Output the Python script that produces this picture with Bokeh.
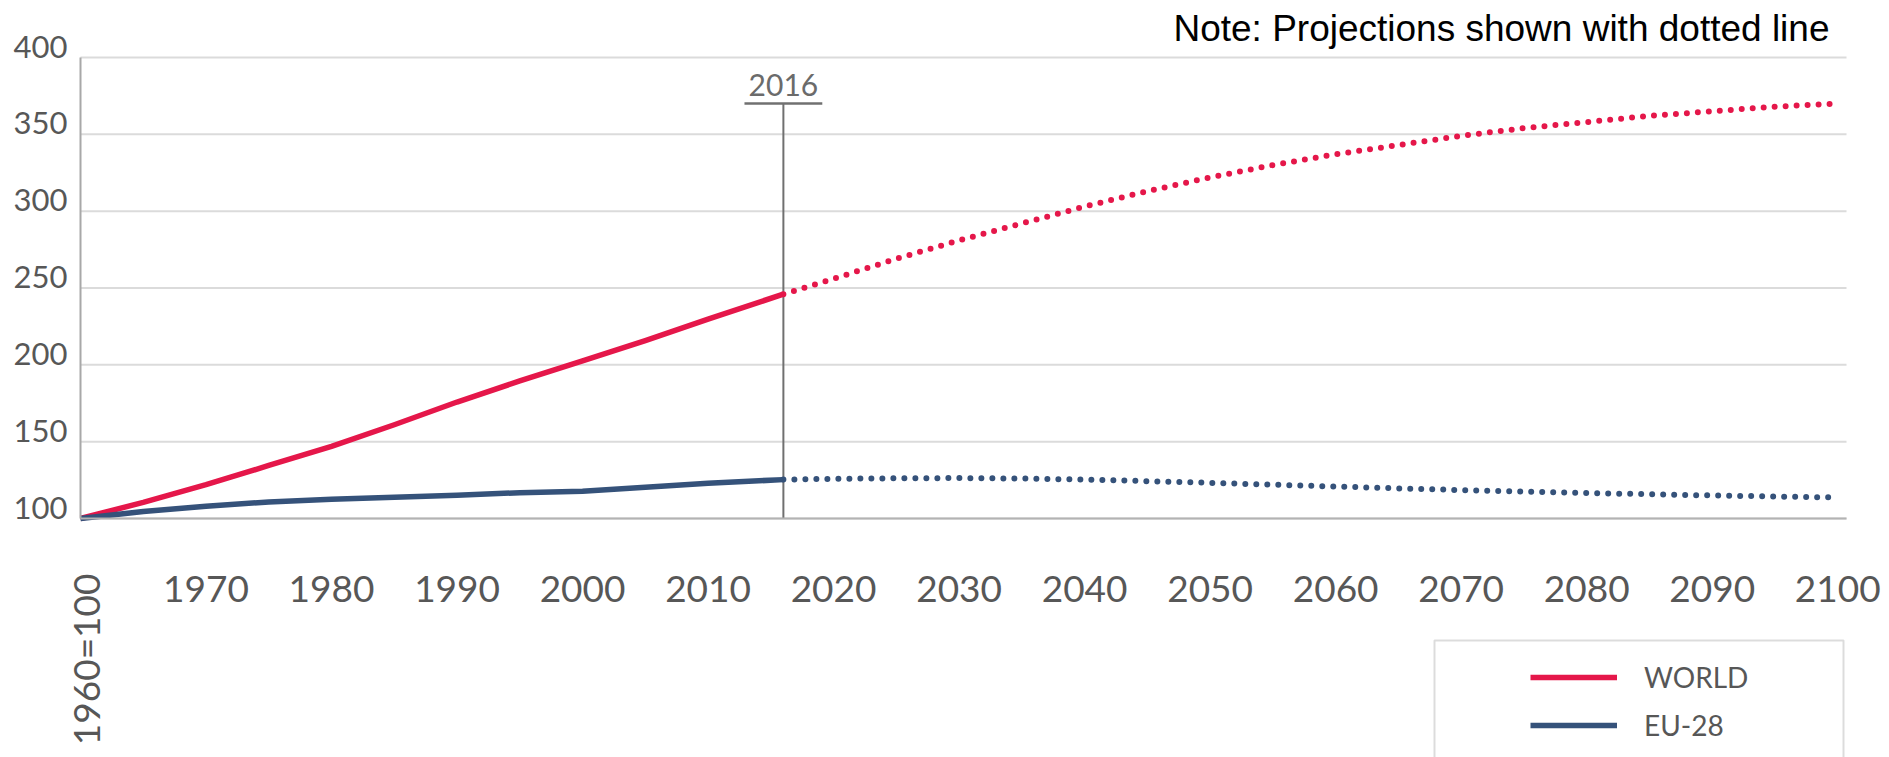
import numpy as np
from bokeh.plotting import figure
from bokeh.models import (FixedTicker, Label, LabelSet, Legend, LegendItem,
                          BoxAnnotation, ColumnDataSource, Range1d)
from bokeh.core.properties import value
from bokeh.embed import file_html
from bokeh.resources import INLINE

# ---------------- data ----------------
years_hist = [1960, 1965, 1970, 1975, 1980, 1985, 1990, 1995, 2000, 2005, 2010, 2016]
world_hist = [100, 110.5, 122, 134.5, 147, 161, 175.8, 189.5, 202.5, 215.8, 229.7, 246]
eu_hist = [100, 104.5, 108, 110.8, 112.6, 113.8, 115.2, 116.8, 117.8, 120.3, 123.0, 125.3]

years_proj = [2016, 2020, 2025, 2030, 2035, 2040, 2045, 2050, 2055, 2060,
              2065, 2070, 2075, 2080, 2085, 2090, 2095, 2100]
world_proj = [246, 256, 269, 281, 292, 303, 313, 322, 330, 337,
              343, 349, 354, 358, 362, 365, 368, 370]
eu_proj = [125.3, 125.8, 126.2, 126.3, 126.0, 125.3, 124.3, 123.2, 122.0, 120.8,
           119.6, 118.5, 117.5, 116.6, 115.8, 115.0, 114.3, 113.7]

series_names = ["WORLD", "EU-28"]
x_ticks = [1960, 1970, 1980, 1990, 2000, 2010, 2020, 2030, 2040, 2050,
           2060, 2070, 2080, 2090, 2100]
y_ticks = [100, 150, 200, 250, 300, 350, 400]
base_label = "1960=100"
marker_year = 2016
marker_label = "2016"
marker_top = 370
note_text = "Note: Projections shown with dotted line"

RED = "#e5174a"
BLUE = "#35527a"
GRID = "#dbdbdb"
TXT = "#575757"

# ---------------- layout (pixels) ----------------
W, H = 1889, 757
X_LO, X_HI = 1960, 2100.7          # data span of the plot area
Y_LO, Y_HI = 100, 400
PX_LEFT, PX_RIGHT = 80, 1846       # plot area in page pixels
PX_TOP, PX_BOTTOM = 57, 518

ppx = (PX_RIGHT - PX_LEFT) / (X_HI - X_LO)
ppy = (PX_BOTTOM - PX_TOP) / (Y_HI - Y_LO)
x_start = X_LO - PX_LEFT / ppx
x_end = x_start + W / ppx
y_end = Y_HI + PX_TOP / ppy
y_start = y_end - H / ppy

p = figure(width=W, height=H, x_range=Range1d(x_start, x_end),
           y_range=Range1d(y_start, y_end), output_backend="svg",
           toolbar_location=None, min_border=0)
p.outline_line_color = None
p.background_fill_color = "white"
p.xgrid.visible = False
p.ygrid.visible = False

# grid lines across the plot area
p.segment(x0=[X_LO] * len(y_ticks), y0=y_ticks, x1=[X_HI] * len(y_ticks), y1=y_ticks,
          line_color=GRID, line_width=2)

# x axis, fixed at y = 100
p.xaxis.fixed_location = Y_LO
p.xaxis.bounds = (X_LO, X_HI)
p.xaxis.ticker = FixedTicker(ticks=x_ticks)
p.xaxis.major_label_overrides = {1960: ""}
p.xaxis.major_tick_line_color = None
p.xaxis.minor_tick_line_color = None
p.xaxis.axis_line_color = "#b3b3b3"
p.xaxis.axis_line_width = 2
p.xaxis.major_label_standoff = 51
p.xaxis.major_label_text_font = "Lato"
p.xaxis.major_label_text_font_size = "37px"
p.xaxis.major_label_text_color = TXT

# y axis line, fixed at x = 1960
p.yaxis.fixed_location = X_LO
p.yaxis.bounds = (Y_LO, Y_HI)
p.yaxis.ticker = FixedTicker(ticks=[])
p.yaxis.major_tick_line_color = None
p.yaxis.minor_tick_line_color = None
p.yaxis.axis_line_color = "#a8a8a8"
p.yaxis.axis_line_width = 2

# y tick labels sitting on the grid lines
ysrc = ColumnDataSource(dict(x=[X_LO] * len(y_ticks), y=y_ticks,
                             label=[str(t) for t in y_ticks]))
p.add_layout(LabelSet(x="x", y="y", text="label", source=ysrc, x_offset=-13,
                      text_align="right", text_baseline="alphabetic",
                      text_font=value("Lato"), text_font_size="31px",
                      text_color=TXT))

# rotated base label under 1960
p.add_layout(Label(x=X_LO, y=H - 573, x_units="data", y_units="screen", text=base_label,
                   angle=np.pi / 2, text_align="right", text_baseline="middle",
                   x_offset=5, text_font="Lato", text_font_size="37px",
                   text_color=TXT))

# 2016 marker
p.segment(x0=[marker_year], y0=[Y_LO], x1=[marker_year], y1=[marker_top],
          line_color="#707070", line_width=2)
p.segment(x0=[marker_year - 3.1], y0=[marker_top], x1=[marker_year + 3.1], y1=[marker_top],
          line_color="#707070", line_width=2.5)
p.text(x=[marker_year], y=[marker_top], text=[marker_label], text_align="center",
       text_baseline="bottom", y_offset=-8, text_font=value("Lato"),
       text_font_size="30px", text_color="#6b6b6b")

# series
r_w = p.line(years_hist, world_hist, line_color=RED, line_width=5.5, line_join="round")
r_e = p.line(years_hist, eu_hist, line_color=BLUE, line_width=5.5, line_join="round")
p.line(years_proj, world_proj, line_color=RED, line_width=6, line_dash="0 11",
       line_cap="round")
p.line(years_proj, eu_proj, line_color=BLUE, line_width=6, line_dash="0 11",
       line_cap="round")

# note
p.add_layout(Label(x=1829, y=H - 28, x_units="screen", y_units="screen", text=note_text,
                   text_align="right", text_baseline="alphabetic",
                   text_font="Liberation Sans", text_font_size="37px",
                   text_color="black"))

# legend box + legend
p.add_layout(BoxAnnotation(left=1434, right=1843, top=H - 640, bottom=-30,
                           left_units="screen", right_units="screen",
                           top_units="screen", bottom_units="screen",
                           fill_alpha=0, line_color="#8c8c8c", line_width=2))
legend = Legend(items=[LegendItem(label=series_names[0], renderers=[r_w]),
                       LegendItem(label=series_names[1], renderers=[r_e])],
                location=(1530, H - 742), padding=0, margin=0, spacing=14,
                glyph_width=87, glyph_height=34, label_height=34, label_standoff=27,
                label_text_font="Lato", label_text_font_size="28px",
                label_text_color=TXT, border_line_alpha=0, background_fill_alpha=0)
p.add_layout(legend)

open("out.html", "w").write(file_html(p, INLINE))
